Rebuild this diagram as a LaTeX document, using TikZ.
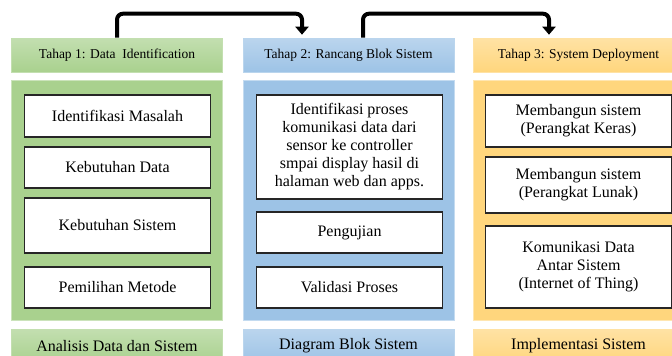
\documentclass[tikz,border=0pt]{standalone}
\usepackage{fontspec}
\setmainfont{Liberation Serif}
\usetikzlibrary{arrows.meta}

\definecolor{hijau}{RGB}{169,209,142}
\definecolor{biru}{RGB}{157,195,230}
\definecolor{oranye}{RGB}{255,214,125}

\tikzset{
  tahap/.style={minimum width=211pt, minimum height=34pt, inner sep=0pt,
    top color=#1!70!white, bottom color=#1, draw=#1!70!white, line width=0.6pt,
    font=\fontsize{13.5}{16}\selectfont},
  panel/.style={minimum width=211pt, minimum height=240pt, inner sep=0pt,
    fill=#1, draw=#1!60!white, line width=0.6pt},
  kaki/.style={minimum width=211pt, minimum height=34pt, inner sep=0pt,
    top color=#1!70!white, bottom color=#1, draw=#1!70!white, line width=0.6pt,
    font=\fontsize{16}{18}\selectfont},
  kotak/.style={draw=black!85, fill=white, line width=1.6pt, minimum width=186pt,
    inner sep=0pt, align=center, font=\fontsize{16}{18}\selectfont},
  alur/.style={line width=4pt, rounded corners=6pt,
    -{Triangle[width=13pt,length=8pt]}, shorten >=3pt}
}

\begin{document}
\begin{tikzpicture}[x=1pt,y=-1pt]
    \clip (0,0) rectangle (672,356);

    % kolom 1
    \node[tahap=hijau] (h1) at (117,55) {Tahap 1: Data \ Identification};
    \node[panel=hijau] (p1) at (117,200) {};
    \node[kotak, minimum height=42pt] (b11) at (117.5,116) {Identifikasi Masalah};
    \node[kotak, minimum height=41pt] (b12) at (117.5,167.5) {Kebutuhan Data};
    \node[kotak, minimum height=55pt] (b13) at (117.5,225.5) {Kebutuhan Sistem};
    \node[kotak, minimum height=41pt] (b14) at (117.5,287.5) {Pemilihan Metode};
    \node[kaki=hijau] (f1) at (117,346) {Analisis Data dan Sistem};

    % kolom 2
    \node[tahap=biru] (h2) at (348.5,55) {Tahap 2: Rancang Blok Sistem};
    \node[panel=biru] (p2) at (348.5,200) {};
    \node[kotak, minimum height=104pt] (b21) at (349.5,147)
        {Identifikasi proses\\komunikasi data dari\\sensor ke controller\\smpai display hasil di\\halaman web dan apps.};
    \node[kotak, minimum height=41pt] (b22) at (349.5,232.5) {Pengujian};
    \node[kotak, minimum height=41pt] (b23) at (349.5,287.5) {Validasi Proses};
    \node[kaki=biru] (f2) at (348.5,346) {Diagram Blok Sistem};

    % kolom 3
    \node[tahap=oranye] (h3) at (578.5,55) {Tahap 3: System Deployment};
    \node[panel=oranye] (p3) at (578.5,200) {};
    \node[kotak, minimum height=52pt] (b31) at (578.5,121) {Membangun sistem\\(Perangkat Keras)};
    \node[kotak, minimum height=56pt] (b32) at (578.5,185) {Membangun sistem\\(Perangkat Lunak)};
    \node[kotak, minimum height=82pt] (b33) at (578.5,267) {Komunikasi Data\\Antar Sistem\\(Internet of Thing)};
    \node[kaki=oranye] (f3) at (578.5,346) {Implementasi Sistem};

    % alur antar tahap
    \draw[alur] (h1.north) -- ++(0,-24) -| ([xshift=-46.5pt]h2.north);
    \draw[alur] ([xshift=14.5pt]h2.north) -- ++(0,-24) -| ([xshift=-29.5pt]h3.north);
\end{tikzpicture}
\end{document}
